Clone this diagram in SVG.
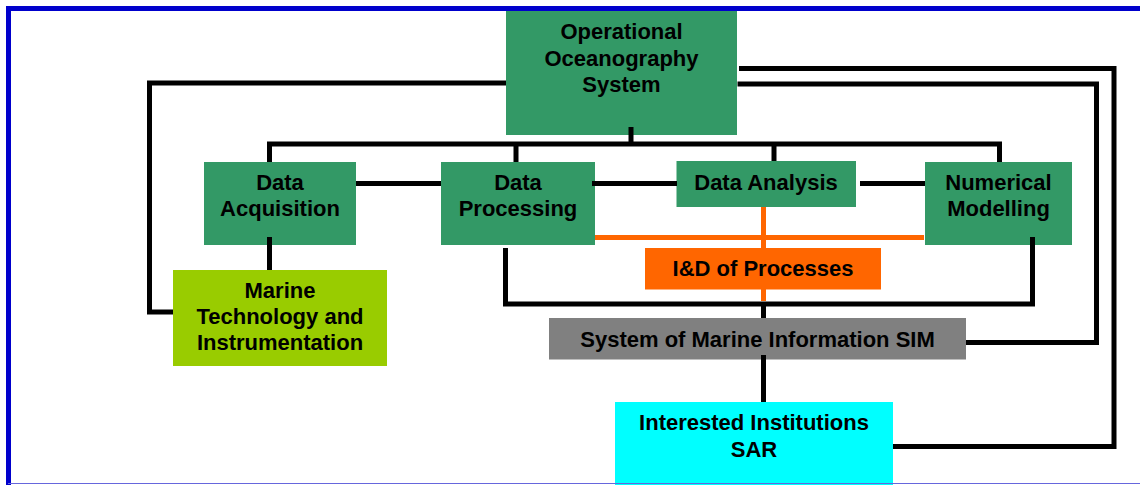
<svg xmlns="http://www.w3.org/2000/svg" width="1140" height="485" viewBox="0 0 1140 485">
<style>
.t{font-family:"Liberation Sans",Arial,sans-serif;font-weight:bold;font-size:22px;fill:#000;text-anchor:middle}
.g{fill:#339966}
.c{fill:none;stroke:#000;stroke-width:5;stroke-linejoin:miter;stroke-linecap:butt}
.o{fill:none;stroke:#FF6600;stroke-width:5}
</style>
<rect width="1140" height="485" fill="#fff"/>
<g id="orange-links">
<path class="o" d="M592,237.5H924M763.5,206V301"/>
</g>
<g id="nodes">
<g id="ocean"><rect class="g" x="506" y="10" width="231" height="125"/>
<text class="t" x="621.5" y="39">Operational</text><text class="t" x="621.5" y="65.5">Oceanography</text><text class="t" x="621.5" y="92">System</text></g>
<g id="acq"><rect class="g" x="204" y="162" width="152" height="83"/>
<text class="t" x="280" y="189.5">Data</text><text class="t" x="280" y="216">Acquisition</text></g>
<g id="marine"><rect x="173" y="270" width="214" height="96" fill="#99CC00"/>
<text class="t" x="280" y="297.5">Marine</text><text class="t" x="280" y="323.5">Technology and</text><text class="t" x="280" y="349.5">Instrumentation</text></g>
<g id="proc"><rect class="g" x="441" y="162" width="154" height="83"/>
<text class="t" x="518" y="189.5">Data</text><text class="t" x="518" y="216">Processing</text></g>
<g id="anal"><rect class="g" x="676.5" y="161" width="179.5" height="46"/>
<text class="t" x="766" y="189.5">Data Analysis</text></g>
<g id="num"><rect class="g" x="925" y="162" width="147" height="83"/>
<text class="t" x="998.5" y="189.5">Numerical</text><text class="t" x="998.5" y="216">Modelling</text></g>
<g id="ind"><rect x="645" y="248" width="236" height="41.5" fill="#FF6600"/>
<text class="t" x="763" y="276">I&amp;D of Processes</text></g>
<g id="sim"><rect x="549" y="318" width="417" height="41.5" fill="#808080"/>
<text class="t" x="757.5" y="346.5">System of Marine Information SIM</text></g>
<g id="inst"><rect x="615" y="402" width="278" height="83" fill="#00FFFF"/>
<text class="t" x="754" y="430">Interested Institutions</text><text class="t" x="754" y="456.5">SAR</text></g>
</g>
<g id="connectors">
<path class="c" d="M506,83H149.5V312H173"/>
<path class="c" d="M631,127V144"/>
<path class="c" d="M269.5,162V144H999.5V162M516,144V162M774,144V161"/>
<path class="c" d="M269.5,237V270"/>
<path class="c" d="M356,183.5H441M592,183.5H677M860,183.5H925"/>
<path class="c" d="M505.5,248V304H1032.5V237"/>
<path class="c" d="M763.5,304V318M763.5,355V402"/>
<path class="c" d="M966,342.5H1096.5V84H737.5"/>
<path class="c" d="M739,68.5H1114V446.5H893"/>
</g>
<g id="frame">
<path d="M8.5,486V8.5H1145" fill="none" stroke="#0000CC" stroke-width="5"/>
<line x1="8" y1="483.5" x2="1140" y2="483.5" stroke="#6666DD" stroke-width="1"/>
</g>
</svg>
